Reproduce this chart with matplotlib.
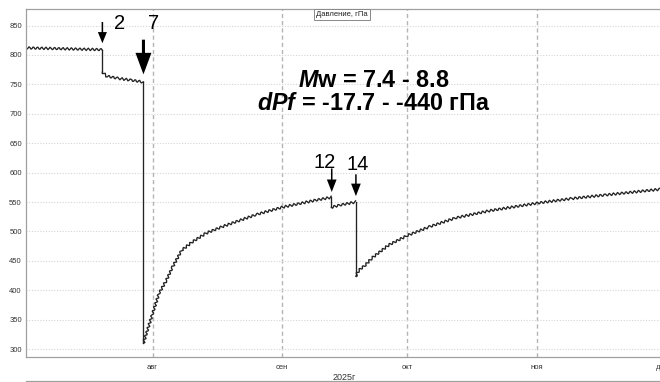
import pandas as pd
import matplotlib
matplotlib.use("Agg")
import matplotlib.pyplot as plt
from matplotlib.lines import Line2D

plt.rcParams['font.family'] = ['Liberation Sans', 'DejaVu Sans']
plt.rcParams['mathtext.fontset'] = 'custom'
plt.rcParams['mathtext.it'] = 'Liberation Sans:italic:bold'
plt.rcParams['mathtext.rm'] = 'Liberation Sans:bold'

# pressure readings (hPa), one list per phase between events
t_phase1 = ["2025-07-01 17:00", "2025-07-08", "2025-07-14", "2025-07-20"]
p_phase1 = [812, 811, 810, 809]

t_phase2 = ["2025-07-20", "2025-07-21", "2025-07-24", "2025-07-27", "2025-07-29 20:00"]
p_phase2 = [771, 764, 760, 757, 754]

t_phase3 = ["2025-07-29 20:00", "2025-08-01", "2025-08-02 14:00", "2025-08-04 08:00",
            "2025-08-05 20:00", "2025-08-08", "2025-08-10 12:00", "2025-08-13 20:00",
            "2025-08-17 16:00", "2025-08-22", "2025-08-26", "2025-09-01",
            "2025-09-05", "2025-09-09", "2025-09-12 20:00"]
p_phase3 = [310, 360, 395, 417, 440, 468, 482, 497, 508, 519, 529, 541, 547, 553, 558]

t_phase4 = ["2025-09-12 20:00", "2025-09-15", "2025-09-18 16:00"]
p_phase4 = [541, 545, 550]

t_phase5 = ["2025-09-18 16:00", "2025-09-19 10:00", "2025-09-21", "2025-09-22 14:00",
            "2025-09-26 14:00", "2025-10-01", "2025-10-06 08:00", "2025-10-12 14:00",
            "2025-10-20 14:00", "2025-11-01", "2025-11-09 12:00", "2025-11-17 12:00",
            "2025-12-01"]
p_phase5 = [424, 434, 443, 455, 477, 493, 508, 523, 535, 548, 556, 562, 572]

month_ticks = ["2025-08-01", "2025-09-01", "2025-10-01", "2025-11-01", "2025-12-01"]
month_labels = ["авг", "сен", "окт", "ноя", "дек"]
y_ticks = [300, 350, 400, 450, 500, 550, 600, 650, 700, 750, 800, 850]

phases = [(t_phase1, p_phase1), (t_phase2, p_phase2), (t_phase3, p_phase3),
          (t_phase4, p_phase4), (t_phase5, p_phase5)]


def dt(t):
    return pd.to_datetime(t, format='ISO8601')


fig = plt.figure(figsize=(6.6, 3.82), dpi=100)
ax = fig.add_axes([26 / 660, 25.3 / 382, 636 / 660, 348.2 / 382])

line_col = '#222222'
for i, (t, p) in enumerate(phases):
    ln, = ax.plot(dt(t), p, color=line_col, lw=0.95)
    ln.set_sketch_params(scale=1.2, length=4.2, randomness=1)
    # straight jump to the next phase
    if i + 1 < len(phases):
        tn, pn = phases[i + 1]
        ax.plot(dt([t[-1], tn[0]]), [p[-1], pn[0]], color=line_col, lw=0.95)

ax.set_xlim(pd.Timestamp("2025-07-01 17:00"), pd.Timestamp("2025-12-01"))
ax.set_ylim(287, 879)
ax.set_xticks(dt(month_ticks))
ax.set_xticklabels(month_labels)
ax.set_yticks(y_ticks)
ax.tick_params(length=0, labelsize=5.5, colors='#333333')
ax.tick_params(axis='y', pad=3)
ax.tick_params(axis='x', pad=5)
ax.set_xlabel("2025г", fontsize=6.5, color='#333333', labelpad=2)

ax.yaxis.grid(True, linestyle=(0, (1, 1.5)), color='#d5d5d5', lw=0.8)
ax.xaxis.grid(True, linestyle=(0, (3, 2.2)), color='#b5b5b5', lw=1.0)
for s in ['left', 'top', 'bottom']:
    ax.spines[s].set_color('#a0a0a0')
    ax.spines[s].set_linewidth(0.9)
ax.spines['right'].set_visible(False)

ax.text(0.497, 0.982, "Давление, гПа", transform=ax.transAxes, fontsize=5.5,
        ha='center', va='center', color='#222222',
        bbox=dict(boxstyle='square,pad=0.25', fc='white', ec='#888888', lw=0.7))


# event arrows
def arrow(x, y_tail, y_tip, hw, hl, tw):
    x = pd.Timestamp(x)
    ax.annotate('', xy=(x, y_tip), xytext=(x, y_tail),
                arrowprops=dict(arrowstyle=f"simple,head_width={hw},head_length={hl},tail_width={tw}",
                                mutation_scale=1, fc='black', ec='black', lw=0,
                                shrinkA=0, shrinkB=0))


arrow("2025-07-20", 856, 820, 6.5, 8, 1.1)
arrow("2025-07-29 20:00", 826, 767, 11.5, 15.5, 2.2)
arrow("2025-09-12 22:00", 607, 567, 7, 9, 1.1)
arrow("2025-09-18 17:00", 597, 560, 7, 9, 1.1)

ax.text(pd.Timestamp("2025-07-24 05:00"), 853, "2", fontsize=14.5, ha='center', va='center')
ax.text(pd.Timestamp("2025-08-01 05:00"), 853, "7", fontsize=14.5, ha='center', va='center')
ax.text(pd.Timestamp("2025-09-11 08:00"), 618, "12", fontsize=14.5, ha='center', va='center')
ax.text(pd.Timestamp("2025-09-19 05:00"), 614, "14", fontsize=14.5, ha='center', va='center')

ax.text(0.547, 0.7927, r"$M$w = 7.4 - 8.8", transform=ax.transAxes, fontsize=16.8,
        fontweight='bold', ha='center', va='center')
ax.text(0.547, 0.7277, r"$dPf$ = -17.7 - -440 гПа", transform=ax.transAxes, fontsize=16.8,
        fontweight='bold', ha='center', va='center')

fig.add_artist(Line2D([26 / 660, 1.0], [1.2 / 382, 1.2 / 382], transform=fig.transFigure,
                      color='#a0a0a0', lw=0.9))

fig.savefig("out.png", dpi=100)
